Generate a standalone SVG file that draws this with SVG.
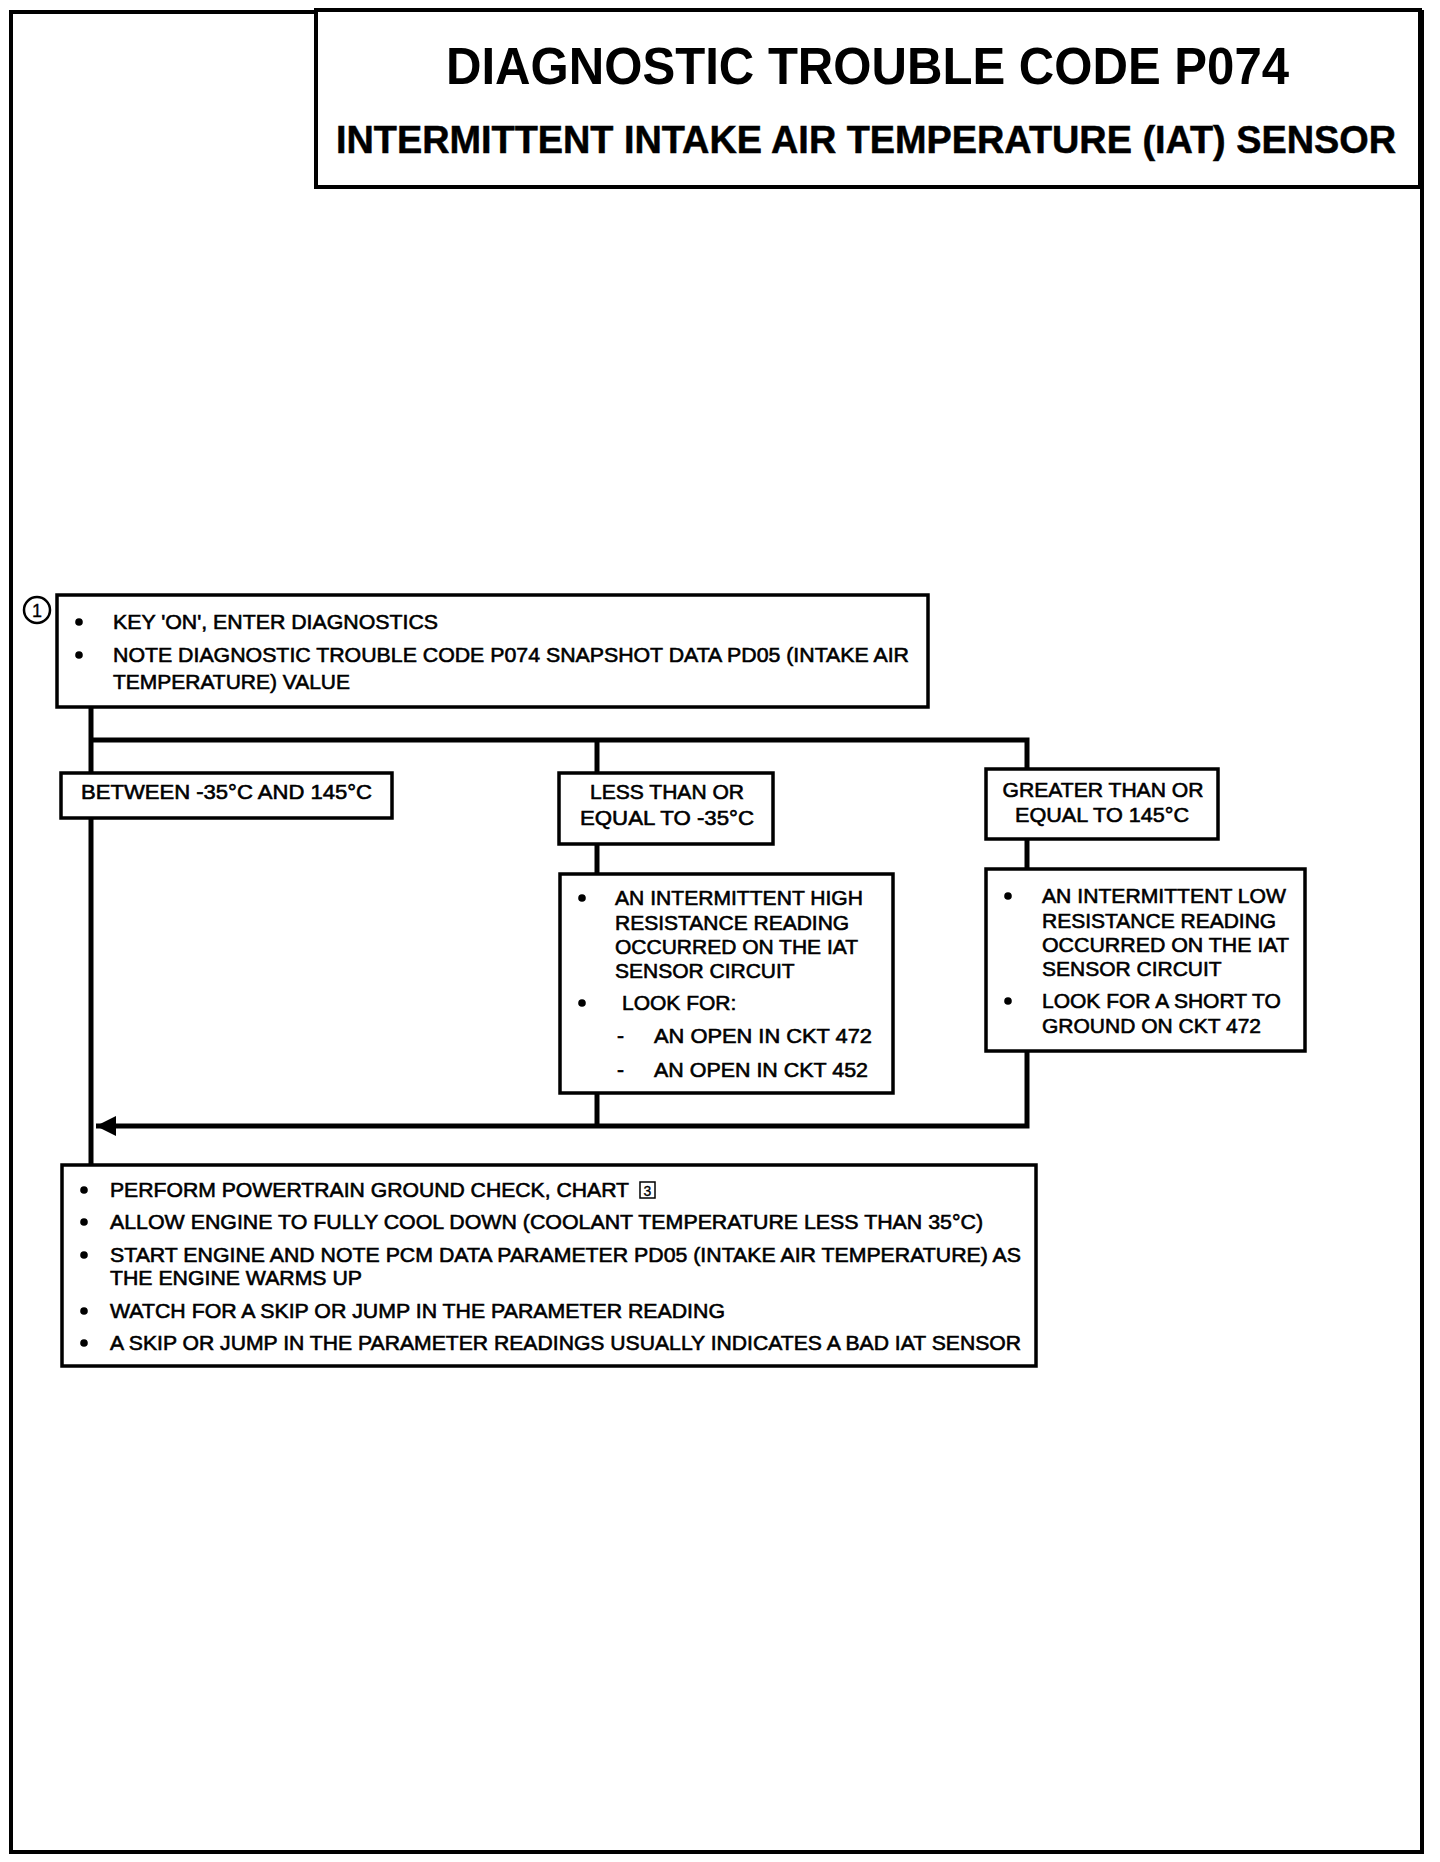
<svg xmlns="http://www.w3.org/2000/svg" width="1440" height="1862" viewBox="0 0 1440 1862">
<style>
  .frame{fill:none;stroke:#000;stroke-width:4}
  .box{fill:#fff;stroke:#000;stroke-width:3.5}
  .conn{fill:none;stroke:#000;stroke-width:5}
  .t{font-family:"Liberation Sans",Arial,Helvetica,sans-serif;font-size:21px;fill:#000;stroke:#000;stroke-width:0.6}
  .tc{font-family:"Liberation Sans",Arial,Helvetica,sans-serif;font-size:21px;fill:#000;stroke:#000;stroke-width:0.6;text-anchor:middle}
  .h1{font-family:"Liberation Sans",Arial,Helvetica,sans-serif;font-size:52px;font-weight:bold;fill:#000}
  .h2{font-family:"Liberation Sans",Arial,Helvetica,sans-serif;font-size:38px;font-weight:bold;fill:#000;stroke:#000;stroke-width:0.5}
  .b{fill:#000}
</style>
<defs>
  <marker id="arr" markerWidth="22" markerHeight="24" refX="20" refY="12" orient="auto" markerUnits="userSpaceOnUse">
    <path d="M0,2 L20,12 L0,22 Z" fill="#000"/>
  </marker>
</defs>
<rect width="1440" height="1862" fill="#fff"/>
<g id="frame">
  <path class="frame" d="M316,12 H11 V1852 H1422 V10"/>
</g>
<g id="header">
  <rect class="frame" x="316" y="10" width="1104" height="177"/>
  <text class="h1" x="446" y="84" textLength="843" lengthAdjust="spacingAndGlyphs">DIAGNOSTIC TROUBLE CODE P074</text>
  <text class="h2" x="336" y="153" textLength="1060" lengthAdjust="spacingAndGlyphs">INTERMITTENT INTAKE AIR TEMPERATURE (IAT) SENSOR</text>
</g>
<g id="connectors">
  <path class="conn" d="M91,707 V1165"/>
  <path class="conn" d="M89,740 H1027 V769"/>
  <path class="conn" d="M597,740 V773"/>
  <path class="conn" d="M597,844 V874"/>
  <path class="conn" d="M1027,839 V868"/>
  <path class="conn" d="M597,1093 V1126"/>
  <path class="conn" d="M1027,1051 V1126 H96" marker-end="url(#arr)"/>
</g>
<g id="step1">
  <circle cx="37" cy="610" r="13" fill="#fff" stroke="#000" stroke-width="2.5"/>
  <text class="tc" x="37" y="617" style="font-size:18px;stroke-width:0.3">1</text>
  <rect class="box" x="57" y="595" width="871" height="112"/>
  <circle class="b" cx="79" cy="622" r="3.8"/>
  <text class="t" x="113" y="629" textLength="325" lengthAdjust="spacingAndGlyphs">KEY 'ON', ENTER DIAGNOSTICS</text>
  <circle class="b" cx="79" cy="655" r="3.8"/>
  <text class="t" x="113" y="662" textLength="796" lengthAdjust="spacingAndGlyphs">NOTE DIAGNOSTIC TROUBLE CODE P074 SNAPSHOT DATA PD05 (INTAKE AIR</text>
  <text class="t" x="113" y="689" textLength="237" lengthAdjust="spacingAndGlyphs">TEMPERATURE) VALUE</text>
</g>
<g id="between">
  <rect class="box" x="61" y="773" width="331" height="45"/>
  <text class="t" x="81" y="799" textLength="291" lengthAdjust="spacingAndGlyphs">BETWEEN -35°C AND 145°C</text>
</g>
<g id="less">
  <rect class="box" x="559" y="773" width="214" height="71"/>
  <text class="tc" x="667" y="799" textLength="154" lengthAdjust="spacingAndGlyphs">LESS THAN OR</text>
  <text class="tc" x="667" y="825" textLength="174" lengthAdjust="spacingAndGlyphs">EQUAL TO -35°C</text>
</g>
<g id="greater">
  <rect class="box" x="986" y="769" width="232" height="70"/>
  <text class="tc" x="1103" y="797" textLength="201" lengthAdjust="spacingAndGlyphs">GREATER THAN OR</text>
  <text class="tc" x="1102" y="822" textLength="174" lengthAdjust="spacingAndGlyphs">EQUAL TO 145°C</text>
</g>
<g id="high">
  <rect class="box" x="560" y="874" width="333" height="219"/>
  <circle class="b" cx="582" cy="898" r="3.8"/>
  <text class="t" x="615" y="905" textLength="248" lengthAdjust="spacingAndGlyphs">AN INTERMITTENT HIGH</text>
  <text class="t" x="615" y="930">RESISTANCE READING</text>
  <text class="t" x="615" y="954">OCCURRED ON THE IAT</text>
  <text class="t" x="615" y="978">SENSOR CIRCUIT</text>
  <circle class="b" cx="582" cy="1003" r="3.8"/>
  <text class="t" x="622" y="1010">LOOK FOR:</text>
  <text class="t" x="617" y="1043">-</text>
  <text class="t" x="654" y="1043" textLength="218" lengthAdjust="spacingAndGlyphs">AN OPEN  IN CKT 472</text>
  <text class="t" x="617" y="1077">-</text>
  <text class="t" x="654" y="1077" textLength="214" lengthAdjust="spacingAndGlyphs">AN OPEN IN CKT 452</text>
</g>
<g id="low">
  <rect class="box" x="986" y="869" width="319" height="182"/>
  <circle class="b" cx="1008" cy="896" r="3.8"/>
  <text class="t" x="1042" y="903" textLength="244" lengthAdjust="spacingAndGlyphs">AN INTERMITTENT LOW</text>
  <text class="t" x="1042" y="928">RESISTANCE READING</text>
  <text class="t" x="1042" y="952" textLength="247" lengthAdjust="spacingAndGlyphs">OCCURRED ON THE IAT</text>
  <text class="t" x="1042" y="976">SENSOR CIRCUIT</text>
  <circle class="b" cx="1008" cy="1001" r="3.8"/>
  <text class="t" x="1042" y="1008">LOOK FOR A SHORT TO</text>
  <text class="t" x="1042" y="1033">GROUND ON CKT 472</text>
</g>
<g id="final">
  <rect class="box" x="62" y="1165" width="974" height="201"/>
  <circle class="b" cx="84" cy="1190" r="3.8"/>
  <text class="t" x="110" y="1197" textLength="519" lengthAdjust="spacingAndGlyphs">PERFORM POWERTRAIN GROUND CHECK, CHART</text>
  <rect x="640" y="1182" width="15" height="16" fill="none" stroke="#000" stroke-width="1.5"/>
  <text class="tc" x="647.5" y="1196" style="font-size:14px;stroke-width:0.3">3</text>
  <circle class="b" cx="84" cy="1222" r="3.8"/>
  <text class="t" x="110" y="1229" textLength="873" lengthAdjust="spacingAndGlyphs">ALLOW ENGINE TO FULLY COOL DOWN (COOLANT TEMPERATURE LESS THAN 35°C)</text>
  <circle class="b" cx="84" cy="1255" r="3.8"/>
  <text class="t" x="110" y="1262" textLength="911" lengthAdjust="spacingAndGlyphs">START ENGINE AND NOTE PCM DATA PARAMETER PD05 (INTAKE AIR TEMPERATURE) AS</text>
  <text class="t" x="110" y="1285" textLength="252" lengthAdjust="spacingAndGlyphs">THE ENGINE WARMS UP</text>
  <circle class="b" cx="84" cy="1311" r="3.8"/>
  <text class="t" x="110" y="1318" textLength="615" lengthAdjust="spacingAndGlyphs">WATCH FOR A SKIP OR JUMP IN THE PARAMETER READING</text>
  <circle class="b" cx="84" cy="1343" r="3.8"/>
  <text class="t" x="110" y="1350" textLength="911" lengthAdjust="spacingAndGlyphs">A SKIP OR JUMP IN THE PARAMETER READINGS USUALLY INDICATES A BAD IAT SENSOR</text>
</g>
</svg>
